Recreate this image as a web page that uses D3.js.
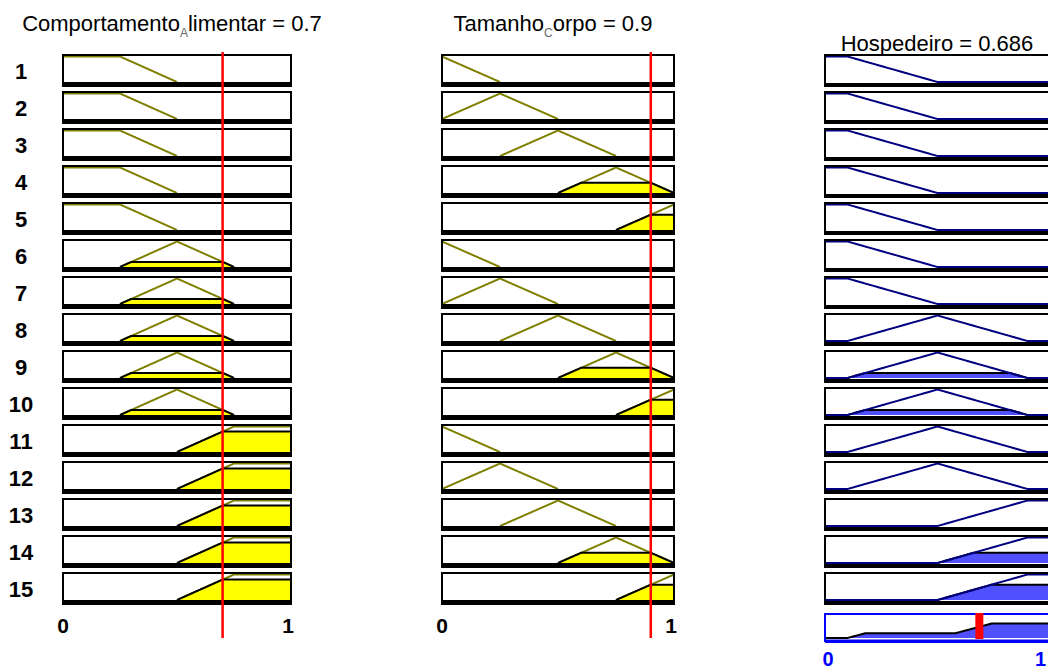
<!DOCTYPE html>
<html>
<head>
<meta charset="utf-8">
<script src="https://cdn.jsdelivr.net/npm/d3@7"></script>
<style>
body { margin: 0; background: #fff; }
text { font-family: "Liberation Sans", Arial, sans-serif; }
</style>
</head>
<body>
<svg id="ruleview" width="1048" height="670"></svg>
<script>
// crisp input values and defuzzified output
let inputValues = [0.7, 0.9];
let outputValue = 0.686;

// membership functions as trapezoids [a, b, c, d] (triangle when b == c)
let mfComportamento = [[0, 0, 0.25, 0.5], [0.25, 0.5, 0.5, 0.75], [0.5, 0.75, 1, 1]];
let mfTamanho = [[-0.25, 0, 0, 0.25], [0, 0.25, 0.25, 0.5], [0.25, 0.5, 0.5, 0.75], [0.5, 0.75, 0.75, 1], [0.75, 1, 1, 1.25]];
let mfHospedeiro = [[0, 0, 0.1, 0.5], [0.1, 0.5, 0.5, 0.9], [0.5, 0.9, 1, 1]];

// rule table: index of the MF used by each rule
let ruleLabels = ['1', '2', '3', '4', '5', '6', '7', '8', '9', '10', '11', '12', '13', '14', '15'];
let ruleComportamento = [0, 0, 0, 0, 0, 1, 1, 1, 1, 1, 2, 2, 2, 2, 2];
let ruleTamanho = [0, 1, 2, 3, 4, 0, 1, 2, 3, 4, 0, 1, 2, 3, 4];
let ruleHospedeiro = [0, 0, 0, 0, 0, 0, 0, 1, 1, 1, 1, 1, 2, 2, 2];

let tickLabels = ['0', '1'];

let trap = ([a, b, c, d], x) => {
    if (x < a || x > d) return 0;
    if (x >= b && x <= c) return 1;
    if (x < b) return (x - a) / (b - a);
    return (d - x) / (d - c);
};

// sample points: fine grid + corners + cut points at level h
let grid = (mfs, h) => {
    let pts = d3.range(0, 1.0001, 0.002);
    mfs.forEach(([a, b, c, d]) => {
        pts.push(a, b, c, d);
        h.forEach(v => pts.push(a + v * (b - a), d - v * (d - c)));
    });
    return Array.from(new Set(pts.filter(p => p >= 0 && p <= 1))).sort((p, q) => p - q);
};

let svg = d3.select('#ruleview');
let rowY = d3.scaleLinear().domain([0, 14]).range([54, 572]);
let yMf = d3.scaleLinear().domain([0, 1]).range([28, 2.5]);

let inputs = [
    { name: 'Comportamento', sub: 'A', rest: 'limentar', mfs: mfComportamento, rule: ruleComportamento, value: inputValues[0], range: [63, 291], titleX: 172 },
    { name: 'Tamanho', sub: 'C', rest: 'orpo', mfs: mfTamanho, rule: ruleTamanho, value: inputValues[1], range: [442, 674], titleX: 553 }
];

let degrees = inputs.map(col => col.mfs.map(mf => trap(mf, col.value)));
let firing = ruleLabels.map((_, r) => Math.min(degrees[0][ruleComportamento[r]], degrees[1][ruleTamanho[r]]));

// row numbers
svg.selectAll('.rowlabel')
    .data(ruleLabels)
    .enter().append('text')
    .attr('x', 21)
    .attr('y', (d, i) => rowY(i) + 24.5)
    .attr('text-anchor', 'middle')
    .style('font-size', '22px')
    .style('font-weight', 'bold')
    .text(d => d);

inputs.forEach(col => {
    let x = d3.scaleLinear().domain([0, 1]).range(col.range);
    ruleLabels.forEach((lab, r) => {
        let mf = col.mfs[col.rule[r]];
        let deg = trap(mf, col.value);
        let pts = grid([mf], [deg]);
        let support = pts.filter(p => p >= mf[0] && p <= mf[3]);
        let g = svg.append('g').attr('transform', `translate(0, ${rowY(r)})`);

        g.append('rect')
            .attr('x', col.range[0]).attr('y', 1)
            .attr('width', col.range[1] - col.range[0]).attr('height', 31)
            .attr('fill', '#fff');

        g.append('path')
            .attr('d', d3.line().x(p => x(p)).y(p => yMf(trap(mf, p)))(support))
            .attr('fill', 'none').attr('stroke', '#808000').attr('stroke-width', 2);

        if (deg > 0) {
            let clip = p => Math.min(deg, trap(mf, p));
            g.append('path')
                .attr('d', d3.area().x(p => x(p)).y0(yMf(0)).y1(p => yMf(clip(p)))(support))
                .attr('fill', '#ffff00');
            g.append('path')
                .attr('d', d3.line().x(p => x(p)).y(p => yMf(clip(p)))(support))
                .attr('fill', 'none').attr('stroke', '#000').attr('stroke-width', 2);
        }

        g.append('rect')
            .attr('x', col.range[0]).attr('y', 28)
            .attr('width', col.range[1] - col.range[0]).attr('height', 4.5)
            .attr('fill', '#000');
        g.append('rect')
            .attr('x', col.range[0]).attr('y', 1)
            .attr('width', col.range[1] - col.range[0]).attr('height', 31)
            .attr('fill', 'none').attr('stroke', '#000').attr('stroke-width', 2);
    });

    // title with TeX-style subscript
    let title = svg.append('text')
        .attr('x', col.titleX).attr('y', 31)
        .attr('text-anchor', 'middle')
        .style('font-size', '22px');
    title.append('tspan').text(col.name);
    title.append('tspan').attr('dy', 6).style('font-size', '12px').attr('fill', '#666').text(col.sub);
    title.append('tspan').attr('dy', -6).text(`${col.rest} = ${col.value}`);

    svg.selectAll(null)
        .data(tickLabels)
        .enter().append('text')
        .attr('x', (d, i) => x(i) - 3 * i)
        .attr('y', 633)
        .attr('text-anchor', 'middle')
        .style('font-size', '21px')
        .style('font-weight', 'bold')
        .text(d => d);

    svg.append('line')
        .attr('x1', x(col.value)).attr('x2', x(col.value))
        .attr('y1', 52).attr('y2', 638)
        .attr('stroke', '#ff0000').attr('stroke-width', 2.5);
});

// output column
let xOut = d3.scaleLinear().domain([0, 1]).range([825, 1050]);
let outPts = grid(mfHospedeiro, firing.filter(f => f > 0));

ruleLabels.forEach((lab, r) => {
    let mf = mfHospedeiro[ruleHospedeiro[r]];
    let f = firing[r];
    let g = svg.append('g').attr('transform', `translate(0, ${rowY(r)})`);

    g.append('rect')
        .attr('x', xOut.range()[0]).attr('y', 1)
        .attr('width', xOut.range()[1] - xOut.range()[0]).attr('height', 31)
        .attr('fill', '#fff');
    g.append('rect')
        .attr('x', xOut.range()[0]).attr('y', 29)
        .attr('width', xOut.range()[1] - xOut.range()[0]).attr('height', 3.5)
        .attr('fill', '#000');

    if (f > 0) {
        let clip = p => Math.min(f, trap(mf, p));
        g.append('path')
            .attr('d', d3.area().x(p => xOut(p)).y0(yMf(0)).y1(p => yMf(clip(p)))(outPts))
            .attr('fill', '#5050ff');
        g.append('path')
            .attr('d', d3.line().x(p => xOut(p)).y(p => yMf(clip(p)))(outPts))
            .attr('fill', 'none').attr('stroke', '#000').attr('stroke-width', 2);
    }

    g.append('path')
        .attr('d', d3.line().x(p => xOut(p)).y(p => yMf(trap(mf, p)))(outPts))
        .attr('fill', 'none').attr('stroke', '#000080').attr('stroke-width', 2);

    g.append('rect')
        .attr('x', xOut.range()[0]).attr('y', 1)
        .attr('width', xOut.range()[1] - xOut.range()[0]).attr('height', 31)
        .attr('fill', 'none').attr('stroke', '#000').attr('stroke-width', 2);
});

svg.append('text')
    .attr('x', 937).attr('y', 51)
    .attr('text-anchor', 'middle')
    .style('font-size', '22px')
    .text(`Hospedeiro = ${outputValue}`);

// aggregated output
let yAgg = d3.scaleLinear().domain([0, 1]).range([638, 614]);
let agg = p => d3.max(ruleLabels, (_, r) => Math.min(firing[r], trap(mfHospedeiro[ruleHospedeiro[r]], p)));

svg.append('rect')
    .attr('x', 825).attr('y', 614)
    .attr('width', 225).attr('height', 27)
    .attr('fill', '#fff');
svg.append('path')
    .attr('d', d3.area().x(p => xOut(p)).y0(yAgg(0)).y1(p => yAgg(agg(p)))(outPts))
    .attr('fill', '#5050ff');
svg.append('path')
    .attr('d', d3.line().x(p => xOut(p)).y(p => yAgg(agg(p)))(outPts))
    .attr('fill', 'none').attr('stroke', '#000').attr('stroke-width', 2);
svg.append('rect')
    .attr('x', 825).attr('y', 639.5)
    .attr('width', 225).attr('height', 3.5)
    .attr('fill', '#0000ff');
svg.append('rect')
    .attr('x', 825).attr('y', 614)
    .attr('width', 225).attr('height', 27)
    .attr('fill', 'none').attr('stroke', '#0000ff').attr('stroke-width', 2);
svg.append('rect')
    .attr('x', xOut(outputValue) - 4).attr('y', 613)
    .attr('width', 8).attr('height', 26)
    .attr('fill', '#ff0000');

// output ticks kept inside the window
svg.selectAll(null)
    .data(tickLabels)
    .enter().append('text')
    .attr('x', (d, i) => i ? 1046 : 828)
    .attr('y', 666)
    .attr('text-anchor', (d, i) => i ? 'end' : 'middle')
    .attr('fill', '#0000ff')
    .style('font-size', '20px')
    .style('font-weight', 'bold')
    .text(d => d);
</script>
</body>
</html>
